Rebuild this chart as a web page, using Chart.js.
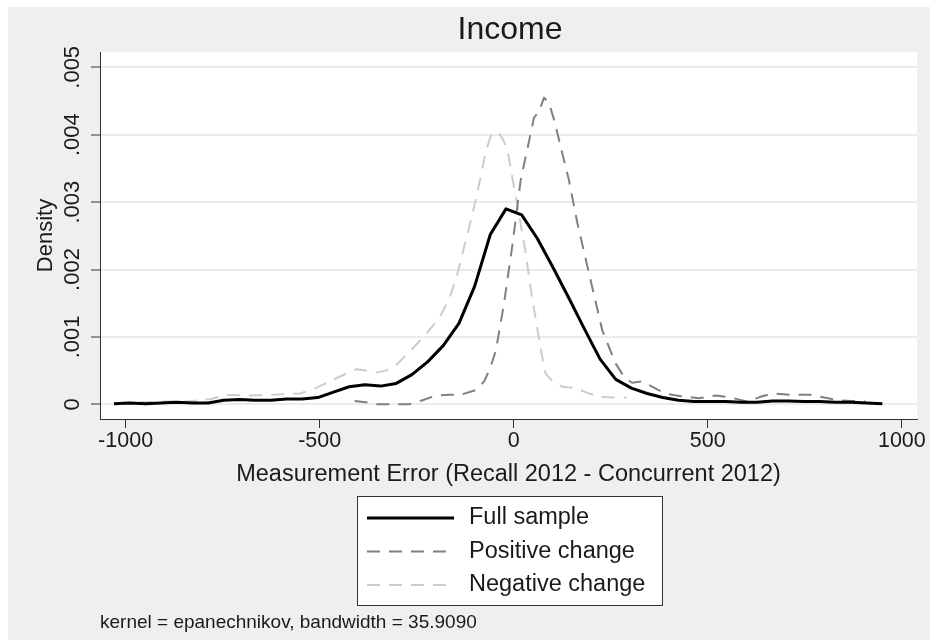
<!DOCTYPE html>
<html>
<head>
<meta charset="utf-8">
<script src="https://cdn.jsdelivr.net/npm/chart.js@4.4.1/dist/chart.umd.min.js"></script>
<style>
    html, body { margin: 0; padding: 0; background: #ffffff; }
    #wrap { width: 930px; height: 640px; }
</style>
</head>
<body>
<div id="wrap"><canvas id="densityChart" width="930" height="640"></canvas></div>
<script>
// kernel density estimates
const fullX = [-1030, -989.6, -949.2, -908.8, -868.4, -828, -787.6, -747.2, -706.8, -666.4,
    -626, -585.6, -545.2, -504.8, -464.4, -424, -383.6, -343.2, -302.8, -262.4,
    -222, -181.6, -141.2, -100.8, -60.4, -20, 20.4, 60.8, 101.2, 141.6,
    182, 222.4, 262.8, 303.2, 343.6, 384, 424.4, 464.8, 505.2, 545.6,
    586, 626.4, 666.8, 707.2, 747.6, 788, 828.4, 868.8, 909.2, 949.6];
const fullY = [0.00001, 0.00002, 0.00001, 0.00002, 0.00003, 0.00002, 0.00002, 0.00006, 0.00007, 0.00006,
    0.00006, 0.00008, 0.00008, 0.0001, 0.00018, 0.00026, 0.00029, 0.00027, 0.00031, 0.00044,
    0.00063, 0.00087, 0.0012, 0.00175, 0.00252, 0.0029, 0.00281, 0.00246, 0.00203, 0.00158,
    0.00112, 0.00067, 0.00037, 0.00024, 0.00016, 0.0001, 0.00006, 0.00004, 0.00004, 0.00004,
    0.00003, 0.00003, 0.00005, 0.00005, 0.00004, 0.00004, 0.00003, 0.00003, 0.00002, 0.00001];

const posX = [-410, -380, -355, -310, -270, -235, -201, -165, -132, -98,
    -76, -60, -46, -25, -4, 18, 40, 52, 65, 78,
    91, 105, 121, 142, 164, 194, 228, 262, 285, 305,
    331, 360, 391, 430, 477, 520, 560, 601, 640, 666,
    717, 768, 800, 837, 870, 906];
const posY = [0.00005, 0.00003, 0.0, 0.0, 0.0, 0.00006, 0.00013, 0.00014, 0.00015, 0.00021,
    0.00034, 0.00055, 0.0008, 0.0015, 0.00234, 0.00333, 0.00392, 0.00425, 0.00434, 0.00455,
    0.00447, 0.0042, 0.00382, 0.00333, 0.00269, 0.00194, 0.0011, 0.00061, 0.0004, 0.00032,
    0.00034, 0.00025, 0.00016, 0.00012, 0.00009, 0.00013, 0.0001, 0.00004, 0.00012, 0.00016,
    0.00014, 0.00014, 0.0001, 0.00006, 0.00005, 0.00004];

const negX = [-1020, -960, -900, -840, -780, -740, -680, -640, -590, -550,
    -510, -467, -430, -405, -380, -355, -330, -303, -257, -225,
    -192, -165, -145, -125, -106, -88, -72, -58, -48, -35,
    -25, -14, -4, 14, 31, 44, 57, 70, 82, 100,
    125, 160, 190, 220, 260, 292];
const negY = [0.00002, 0.00003, 0.00004, 0.00004, 0.00008, 0.00014, 0.00013, 0.00014, 0.00015, 0.00016,
    0.00024, 0.00036, 0.00046, 0.00052, 0.0005, 0.00047, 0.0005, 0.00058, 0.00085, 0.00105,
    0.00128, 0.00158, 0.00194, 0.0024, 0.00283, 0.0033, 0.00375, 0.004, 0.00404, 0.004,
    0.0039, 0.0037, 0.00338, 0.0028, 0.00224, 0.0017, 0.00125, 0.0008, 0.00046, 0.00034,
    0.00026, 0.00024, 0.00017, 0.00011, 0.0001, 0.0001];

const seriesNames = ["Full sample", "Positive change", "Negative change"];
const xTickValues = [-1000, -500, 0, 500, 1000];
const yTickValues = [0, 0.001, 0.002, 0.003, 0.004, 0.005];
const yTickLabels = ["0", ".001", ".002", ".003", ".004", ".005"];

const chartTitle = "Income";
const xTitle = "Measurement Error (Recall 2012 - Concurrent 2012)";
const yTitle = "Density";
const noteText = "kernel = epanechnikov, bandwidth = 35.9090";

const FONT = "'Liberation Sans', Arial, sans-serif";

function toPoints(xs, ys) {
    return xs.map((x, i) => ({ x: x, y: ys[i] }));
}

// gray page, white plot region, title, legend box and note
const stataFrame = {
    id: "stataFrame",
    beforeDraw(chart) {
        const ctx = chart.ctx;
        const area = chart.chartArea;
        ctx.save();
        ctx.fillStyle = "#ffffff";
        ctx.fillRect(0, 0, chart.width, chart.height);
        ctx.fillStyle = "#efefef";
        ctx.fillRect(8, 7, chart.width - 8, chart.height - 7);
        ctx.fillStyle = "#ffffff";
        ctx.fillRect(area.left, area.top, area.right - area.left, area.bottom - area.top);

        ctx.fillStyle = "#1a1a1a";
        ctx.font = "32px " + FONT;
        ctx.textAlign = "center";
        ctx.textBaseline = "middle";
        ctx.fillText(chartTitle, 510, 30);
        ctx.restore();
    },
    afterDraw(chart) {
        const ctx = chart.ctx;
        ctx.save();
        // legend
        const box = { x: 357, y: 496, w: 305, h: 109 };
        ctx.fillStyle = "#ffffff";
        ctx.fillRect(box.x, box.y, box.w, box.h);
        ctx.strokeStyle = "#333333";
        ctx.lineWidth = 1;
        ctx.strokeRect(box.x + 0.5, box.y + 0.5, box.w, box.h);
        ctx.font = "23.5px " + FONT;
        ctx.textAlign = "left";
        ctx.textBaseline = "middle";
        chart.data.datasets.forEach((ds, i) => {
            const rowY = box.y + 22 + i * 33.5;
            ctx.strokeStyle = ds.borderColor;
            ctx.lineWidth = ds.borderWidth;
            ctx.setLineDash(ds.borderDash || []);
            ctx.beginPath();
            ctx.moveTo(box.x + 10, rowY);
            ctx.lineTo(box.x + 97, rowY);
            ctx.stroke();
            ctx.setLineDash([]);
            ctx.fillStyle = "#1a1a1a";
            ctx.fillText(ds.label, box.x + 112, rowY);
        });
        // note
        ctx.font = "19px " + FONT;
        ctx.fillStyle = "#1a1a1a";
        ctx.fillText(noteText, 100, 623);
        ctx.restore();
    }
};

const ctx = document.getElementById("densityChart").getContext("2d");
const chart = new Chart(ctx, {
    type: "line",
    data: {
        datasets: [
            {
                label: seriesNames[0],
                data: toPoints(fullX, fullY),
                borderColor: "#000000",
                borderWidth: 3,
            },
            {
                label: seriesNames[1],
                data: toPoints(posX, posY),
                borderColor: "#808080",
                borderWidth: 2,
                borderDash: [13, 9],
            },
            {
                label: seriesNames[2],
                data: toPoints(negX, negY),
                borderColor: "#cccccc",
                borderWidth: 2,
                borderDash: [13, 9],
            },
        ],
    },
    options: {
        responsive: false,
        animation: false,
        events: [],
        layout: {
            padding: { left: 8, top: 52, right: 13, bottom: 151 },
        },
        elements: {
            point: { radius: 0 },
            line: { tension: 0, borderJoinStyle: "round", borderCapStyle: "butt" },
        },
        plugins: {
            legend: { display: false },
            tooltip: { enabled: false },
        },
        scales: {
            x: {
                type: "linear",
                min: -1066,
                max: 1039,
                afterFit: scale => { scale.height = 70; },
                afterBuildTicks: scale => { scale.ticks = xTickValues.map(v => ({ value: v })); },
                ticks: {
                    font: { family: FONT, size: 21.5 },
                    color: "#1a1a1a",
                    padding: 0,
                    maxRotation: 0,
                    callback: v => String(v),
                },
                grid: {
                    drawOnChartArea: false,
                    drawTicks: true,
                    tickLength: 9,
                    tickColor: "#333333",
                },
                border: { display: true, color: "#333333", width: 1 },
                title: {
                    display: true,
                    text: xTitle,
                    font: { family: FONT, size: 23.5 },
                    color: "#1a1a1a",
                    padding: { top: 7, bottom: 0 },
                },
            },
            y: {
                type: "linear",
                min: -0.000218,
                max: 0.005227,
                afterFit: scale => { scale.width = 92; },
                afterBuildTicks: scale => { scale.ticks = yTickValues.map(v => ({ value: v })); },
                ticks: {
                    font: { family: FONT, size: 22 },
                    color: "#1a1a1a",
                    padding: -3,
                    minRotation: 90,
                    maxRotation: 90,
                    crossAlign: "center",
                    callback: (v, i) => yTickLabels[i],
                },
                grid: {
                    color: "#ebebeb",
                    lineWidth: 2,
                    tickLength: 9,
                    tickColor: "#333333",
                    tickWidth: 1,
                },
                border: { display: true, color: "#333333", width: 1 },
                title: {
                    display: true,
                    text: yTitle,
                    font: { family: FONT, size: 22 },
                    color: "#1a1a1a",
                    padding: { top: 25, bottom: 0 },
                },
            },
        },
    },
    plugins: [stataFrame],
});
</script>
</body>
</html>
